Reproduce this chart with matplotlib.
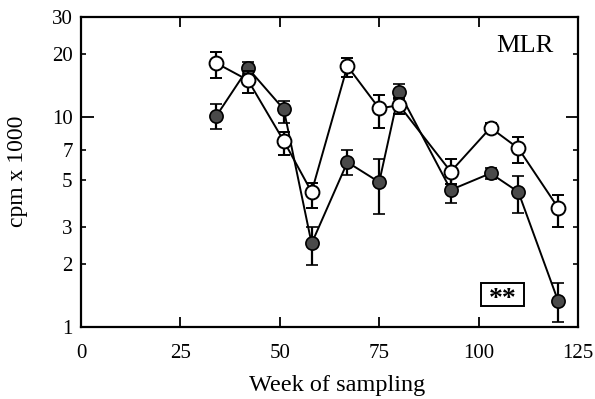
import matplotlib
matplotlib.use("Agg")
import matplotlib.pyplot as plt
from matplotlib.ticker import FixedLocator, FixedFormatter
from matplotlib.patches import Rectangle

plt.rcParams['font.family'] = ['Liberation Serif', 'DejaVu Serif']

weeks = [34, 42, 51, 58, 67, 75, 80, 93, 103, 110, 120]
open_vals = [18.1, 15.0, 7.7, 4.4, 17.5, 11.0, 11.4, 5.5, 8.9, 7.1, 3.7]
open_lo = [15.3, 13.0, 6.6, 3.7, 15.6, 8.9, 10.4, 4.8, 8.4, 6.05, 3.0]
open_hi = [20.4, 16.5, 8.5, 4.85, 19.1, 12.7, 12.4, 6.3, 9.4, 8.0, 4.25]
filled_vals = [10.1, 17.1, 10.9, 2.5, 6.1, 4.9, 13.2, 4.5, 5.4, 4.4, 1.33]
filled_lo = [8.8, 16.0, 9.4, 1.97, 5.3, 3.45, 12.2, 3.9, 5.1, 3.5, 1.06]
filled_hi = [11.5, 18.3, 12.0, 3.0, 7.0, 6.3, 14.4, 5.2, 5.7, 5.23, 1.62]

ymajor = [1, 10]
ymajor_labels = ['1', '10']
yminor = [2, 3, 5, 7, 20, 30]
yminor_labels = ['2', '3', '5', '7', '20', '30']
xticks = [0, 25, 50, 75, 100, 125]

fig = plt.figure(figsize=(5.95, 3.99), dpi=100)
ax = fig.add_axes([81/595, 1-327/399, (578-81)/595, (327-17)/399])

ax.set_yscale('log')
ax.set_xlim(0, 125)
ax.set_ylim(1, 30)

def errs(v, lo, hi):
    return [[a - b for a, b in zip(v, lo)], [b - a for a, b in zip(v, hi)]]

ax.errorbar(weeks, filled_vals, yerr=errs(filled_vals, filled_lo, filled_hi),
            fmt='o', color='black', ecolor='black', elinewidth=1.6, capsize=4.5,
            capthick=1.6, markersize=9.5, markerfacecolor='#4a4a4a',
            markeredgecolor='black', markeredgewidth=1.2, zorder=3)
ax.plot(weeks, filled_vals, color='black', lw=1.4, zorder=2)
ax.errorbar(weeks, open_vals, yerr=errs(open_vals, open_lo, open_hi),
            fmt='o', color='black', ecolor='black', elinewidth=1.6, capsize=4.5,
            capthick=1.6, markersize=10, markerfacecolor='white',
            markeredgecolor='black', markeredgewidth=1.4, zorder=4)
ax.plot(weeks, open_vals, color='black', lw=1.4, zorder=2)

ax.yaxis.set_major_locator(FixedLocator(ymajor))
ax.yaxis.set_major_formatter(FixedFormatter(ymajor_labels))
ax.yaxis.set_minor_locator(FixedLocator(yminor))
ax.yaxis.set_minor_formatter(FixedFormatter(yminor_labels))
ax.set_xticks(xticks)
ax.set_xticklabels([str(t) for t in xticks])

ax.tick_params(axis='x', which='major', direction='in', top=True,
               length=7, width=1.3, labelsize=15, pad=12)
ax.tick_params(axis='y', which='major', direction='in', right=True,
               length=9, width=1.3, labelsize=15, pad=6)
ax.tick_params(axis='y', which='minor', direction='in', right=True,
               length=3.5, width=1.2, labelsize=15, pad=6)
for s in ax.spines.values():
    s.set_linewidth(1.6)

ax.text(0.95, 0.906, 'MLR', transform=ax.transAxes, ha='right', va='center',
        fontsize=19)
ax.add_patch(Rectangle((0.805, 0.067), 0.0865, 0.074, transform=ax.transAxes,
                       fill=True, fc='white', ec='black', lw=1.4, zorder=5))
ax.text(0.848, 0.089, '**', transform=ax.transAxes, ha='center', va='center',
        fontsize=20, fontweight='bold', zorder=6)

fig.text(337/595, 1-386/399, 'Week of sampling', ha='center', va='center',
         fontsize=17.5)
fig.text(18/595, 1-171/399, 'cpm x 1000', ha='center', va='center',
         fontsize=17, rotation=90)

fig.savefig('out.png', dpi=100)
